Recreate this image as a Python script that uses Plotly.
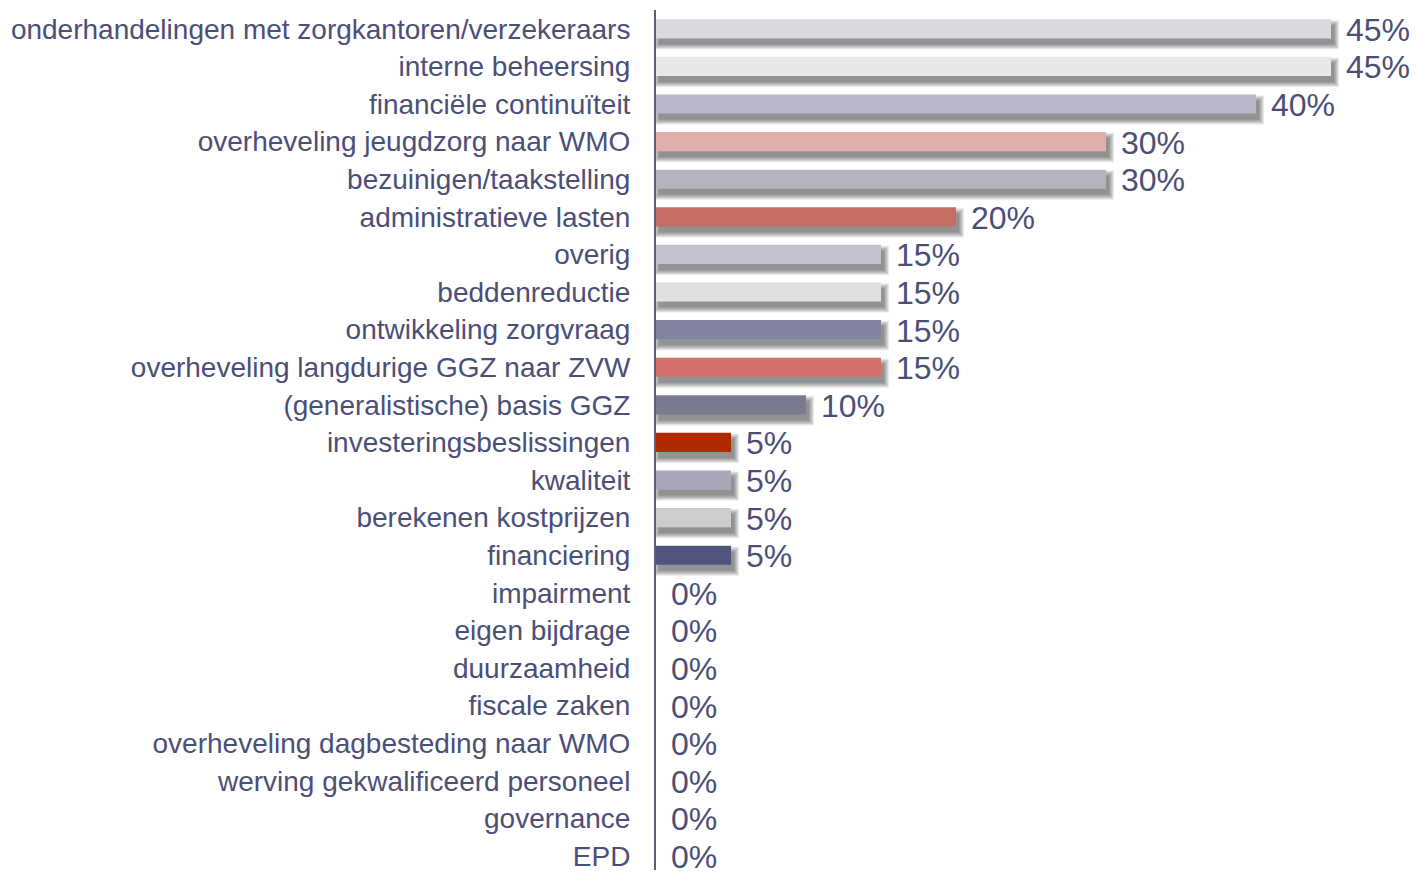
import plotly.graph_objects as go

categories = [
    "onderhandelingen met zorgkantoren/verzekeraars",
    "interne beheersing",
    "financiële continuïteit",
    "overheveling jeugdzorg naar WMO",
    "bezuinigen/taakstelling",
    "administratieve lasten",
    "overig",
    "beddenreductie",
    "ontwikkeling zorgvraag",
    "overheveling langdurige GGZ naar ZVW",
    "(generalistische) basis GGZ",
    "investeringsbeslissingen",
    "kwaliteit",
    "berekenen kostprijzen",
    "financiering",
    "impairment",
    "eigen bijdrage",
    "duurzaamheid",
    "fiscale zaken",
    "overheveling dagbesteding naar WMO",
    "werving gekwalificeerd personeel",
    "governance",
    "EPD",
]
values = [45, 45, 40, 30, 30, 20, 15, 15, 15, 15, 10, 5, 5, 5, 5, 0, 0, 0, 0, 0, 0, 0, 0]
bar_colors = [
    "#d9dae0", "#e8e8e8", "#b8b8c8", "#e2b0ac", "#b4b4be", "#c46e66",
    "#c2c2ce", "#e0e0e0", "#8283a0", "#d6706a", "#7a7a90", "#b02a00",
    "#a8a8b8", "#cdcdcd", "#50547e", "#cccccc", "#cccccc", "#cccccc",
    "#cccccc", "#cccccc", "#cccccc", "#cccccc", "#cccccc",
]

TEXT = "#4b4f77"
FONT = "Liberation Sans, Arial, sans-serif"

PX_X = 15.0      # pixels per percent
PX_Y = 37.69     # pixels per category
BAR_W = 0.51

fig = go.Figure()

# soft drop shadow made of several translucent layers
N_LAYERS = 6
for k in range(N_LAYERS):
    xs = [v + 2 * k / PX_X if v > 0 else None for v in values]
    fig.add_trace(go.Bar(
        y=categories, x=xs, orientation="h",
        base=(3 - k) / PX_X,
        width=BAR_W + 2 * k / PX_Y,
        offset=-BAR_W / 2 + 6 / PX_Y - k / PX_Y,
        marker=dict(color="rgba(0,0,0,0.085)", line=dict(width=0)),
        hoverinfo="skip", showlegend=False,
    ))

fig.add_trace(go.Bar(
    y=categories, x=values, orientation="h",
    width=BAR_W, offset=-BAR_W / 2,
    marker=dict(color=bar_colors, line=dict(width=0)),
    showlegend=False,
))

for c, v in zip(categories, values):
    fig.add_annotation(
        x=v, y=c, text=f"{v}%", showarrow=False,
        xanchor="left", yanchor="middle", xshift=13, yshift=-1,
        font=dict(family=FONT, size=32, color=TEXT),
    )

fig.update_layout(
    width=1416, height=872,
    margin=dict(l=656, r=10, t=10, b=0),
    barmode="overlay",
    plot_bgcolor="white", paper_bgcolor="white",
    font=dict(family=FONT, size=28, color=TEXT),
)
fig.update_xaxes(range=[0, 50], showgrid=False, zeroline=False,
                 showticklabels=False, showline=False)
fig.update_yaxes(
    categoryorder="array", categoryarray=categories,
    range=[22.37, -0.5], showgrid=False, zeroline=False,
    showline=True, linecolor="#5a5e80", linewidth=2,
    ticks="", ticklabelstandoff=18,
    tickfont=dict(family=FONT, size=28, color=TEXT),
)

fig.write_html(
    "out.html",
    config={"displayModeBar": False},
    post_script="document.body.style.margin='0';document.body.style.overflow='hidden';",
)
